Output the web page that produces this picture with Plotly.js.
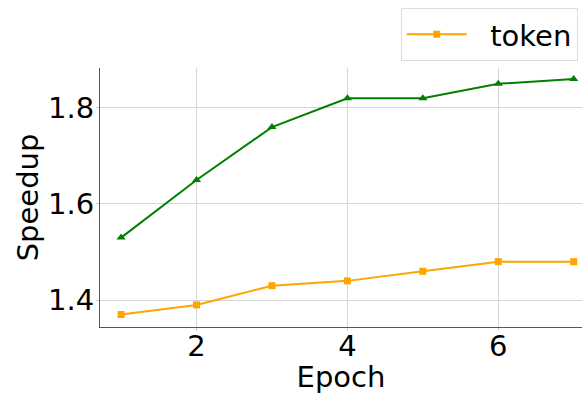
<!DOCTYPE html>
<html>
<head>
<meta charset="utf-8">
<script src="https://cdn.plot.ly/plotly-3.0.1.min.js"></script>
<style>html,body{margin:0;padding:0;background:#fff;}#chart{width:582px;height:394px;}</style>
</head>
<body>
<div id="chart"></div>
<script>
const epochs = [1, 2, 3, 4, 5, 6, 7];
const greenSpeedup = [1.53, 1.65, 1.76, 1.82, 1.82, 1.85, 1.86];
const tokenSpeedup = [1.37, 1.39, 1.43, 1.44, 1.46, 1.48, 1.48];
const xTicks = [2, 4, 6];
const yTicks = [1.4, 1.6, 1.8];

const traces = [
  {
    x: epochs, y: greenSpeedup, type: 'scatter', mode: 'lines+markers',
    name: '_green', showlegend: false,
    line: {color: '#008000', width: 2},
    marker: {symbol: 'triangle-up', size: 8, color: '#008000'}
  },
  {
    x: epochs, y: tokenSpeedup, type: 'scatter', mode: 'lines+markers',
    name: '\u00a0\u00a0token',
    line: {color: '#FFA500', width: 2},
    marker: {symbol: 'square', size: 7, color: '#FFA500'}
  }
];

const layout = {
  width: 582, height: 394,
  margin: {l: 100, r: 0, t: 68, b: 67},
  paper_bgcolor: '#fff', plot_bgcolor: '#fff',
  font: {family: 'DejaVu Sans', size: 29, color: '#000'},
  showlegend: true,
  legend: {
    x: 0.624, xanchor: 'left', y: 1.232, yanchor: 'top',
    bgcolor: '#fff', bordercolor: '#dcdcdc', borderwidth: 1,
    font: {family: 'DejaVu Sans', size: 29, color: '#000'},
    itemwidth: 60
  },
  xaxis: {
    range: [0.72, 7.11], tickvals: xTicks, ticktext: xTicks.map(String),
    showgrid: true, gridcolor: '#d6d6d6', gridwidth: 1,
    zeroline: false, showline: true, linecolor: '#555', linewidth: 1,
    ticks: 'outside', ticklen: 3, tickcolor: '#cccccc',
    ticklabelstandoff: -10,
    tickfont: {size: 29},
    title: {text: 'Epoch', font: {size: 29}, standoff: 10}
  },
  yaxis: {
    range: [1.344, 1.883], tickvals: yTicks, ticktext: yTicks.map(v => v.toFixed(1)),
    showgrid: true, gridcolor: '#d6d6d6', gridwidth: 1,
    zeroline: false, showline: true, linecolor: '#555', linewidth: 1,
    ticks: 'outside', ticklen: 3, tickcolor: '#cccccc',
    ticklabelstandoff: -4,
    tickfont: {size: 29},
    title: {text: 'Speedup', font: {size: 29}, standoff: 0}
  }
};

Plotly.newPlot('chart', traces, layout, {displayModeBar: false, staticPlot: true});
</script>
</body>
</html>
